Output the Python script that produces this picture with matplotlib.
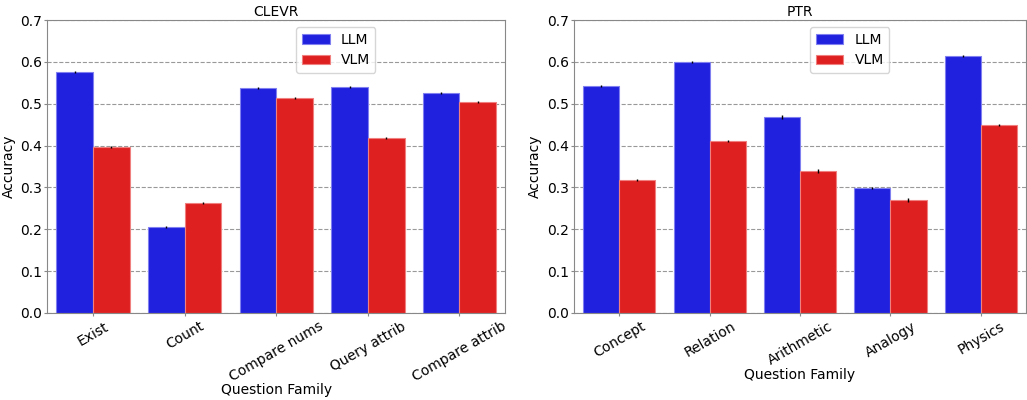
import numpy as np
import matplotlib
matplotlib.use("Agg")
import matplotlib.pyplot as plt

clevr_families = ["Exist", "Count", "Compare nums", "Query attrib", "Compare attrib"]
clevr_llm = [0.576, 0.205, 0.537, 0.540, 0.526]
clevr_vlm = [0.397, 0.263, 0.514, 0.418, 0.504]
clevr_llm_err = [0.003, 0.002, 0.002, 0.002, 0.003]
clevr_vlm_err = [0.002, 0.002, 0.002, 0.002, 0.003]

ptr_families = ["Concept", "Relation", "Arithmetic", "Analogy", "Physics"]
ptr_llm = [0.542, 0.600, 0.468, 0.299, 0.614]
ptr_vlm = [0.318, 0.411, 0.339, 0.270, 0.449]
ptr_llm_err = [0.002, 0.002, 0.004, 0.003, 0.002]
ptr_vlm_err = [0.002, 0.002, 0.004, 0.004, 0.003]

BLUE = "#2020df"
RED = "#df2020"


def drawPanel(ax, title, families, llm, vlm, llmErr, vlmErr, legendX, labelY):
    x = np.arange(len(families))
    w = 0.4
    ax.bar(x - w / 2, llm, w, color=BLUE, edgecolor="#8080f0", linewidth=0.8, label="LLM", zorder=2)
    ax.bar(x + w / 2, vlm, w, color=RED, edgecolor="#f08080", linewidth=0.8, label="VLM", zorder=2)
    ax.errorbar(x - w / 2, llm, yerr=llmErr, fmt="none", ecolor="black", elinewidth=1, zorder=3)
    ax.errorbar(x + w / 2, vlm, yerr=vlmErr, fmt="none", ecolor="black", elinewidth=1, zorder=3)
    ax.set_xlim(-0.5, len(families) - 0.5)
    ax.set_ylim(0, 0.7)
    ax.set_xticks(x)
    ax.set_xticklabels(families, rotation=30, fontsize=10)
    ax.tick_params(axis="y", labelsize=10, length=2.5, pad=1)
    ax.tick_params(axis="x", length=2.5, pad=2)
    ax.tick_params(colors="#888888", labelcolor="black")
    ax.grid(axis="y", linestyle="--", color="#999999", linewidth=0.8, zorder=0)
    for s in ax.spines.values():
        s.set_color("#888888")
    ax.set_title(title, fontsize=10, pad=3)
    ax.set_xlabel("Question Family", fontsize=10)
    ax.xaxis.set_label_coords(0.5, labelY)
    ax.set_ylabel("Accuracy", fontsize=10, labelpad=3.5)
    ax.legend(loc="upper center", bbox_to_anchor=(legendX, 1.0), fontsize=10)


fig = plt.figure(figsize=(10.27, 4), dpi=100)
ax1 = fig.add_axes([0.046, 0.2175, 0.446, 0.7325])
ax2 = fig.add_axes([0.559, 0.2175, 0.440, 0.7325])
drawPanel(ax1, "CLEVR", clevr_families, clevr_llm, clevr_vlm, clevr_llm_err, clevr_vlm_err, 0.63, -0.239)
drawPanel(ax2, "PTR", ptr_families, ptr_llm, ptr_vlm, ptr_llm_err, ptr_vlm_err, 0.61, -0.188)
fig.savefig("out.png", dpi=100)
